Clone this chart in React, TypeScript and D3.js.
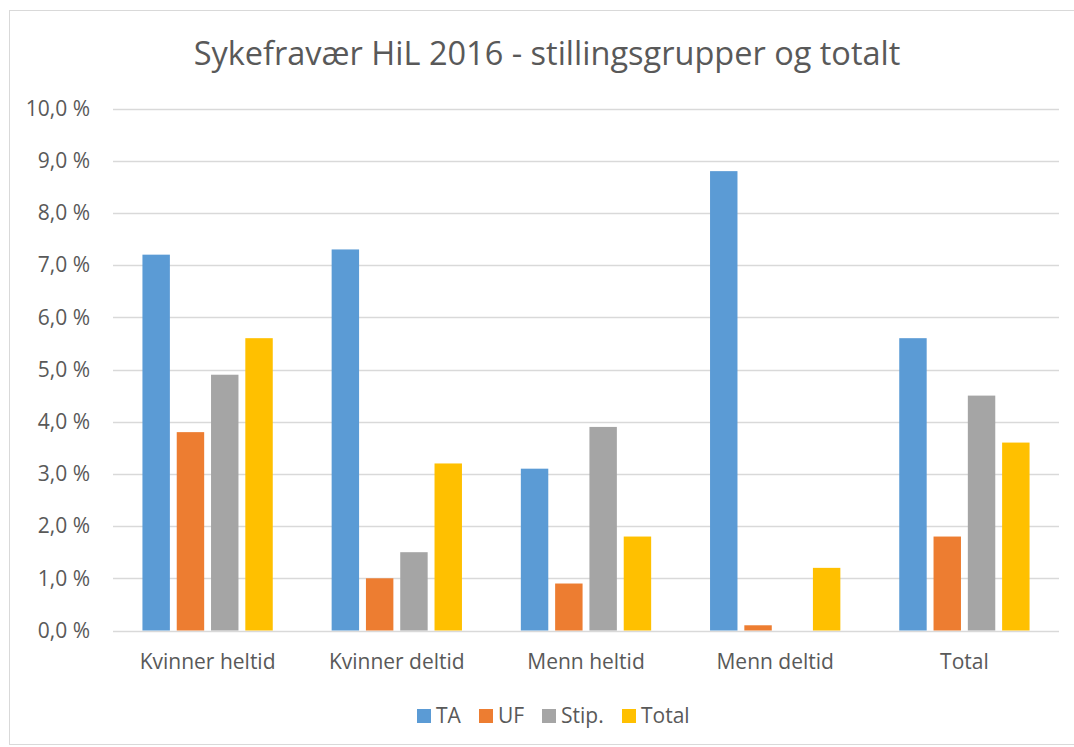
import React, { useEffect, useRef } from 'react'
import * as d3 from 'd3'

const categories = ['Kvinner heltid', 'Kvinner deltid', 'Menn heltid', 'Menn deltid', 'Total']
const seriesNames = ['TA', 'UF', 'Stip.', 'Total']
const taValues = [7.2, 7.3, 3.1, 8.8, 5.6]
const ufValues = [3.8, 1.0, 0.9, 0.1, 1.8]
const stipValues = [4.9, 1.5, 3.9, 0, 4.5]
const totalValues = [5.6, 3.2, 1.8, 1.2, 3.6]
const yTicks = [0, 1, 2, 3, 4, 5, 6, 7, 8, 9, 10]
const colors = ['#5B9BD5', '#ED7D31', '#A5A5A5', '#FFC000']

const title = 'Sykefravær HiL 2016 - stillingsgrupper og totalt'

export default function App() {
  const svgRef = useRef<SVGSVGElement>(null)
  const width = 1074
  const height = 747

  useEffect(() => {
    if (!svgRef.current) return
    const svg = d3.select(svgRef.current)
    svg.selectAll('*').remove()

    const font = "'Open Sans', sans-serif"
    const textColor = '#595959'
    const left = 113
    const right = 1059
    const top = 108.5
    const bottom = 630.5

    // chart border
    svg.append('rect')
      .attr('x', 9.5).attr('y', 10.5)
      .attr('width', width).attr('height', height - 13)
      .attr('fill', 'white')
      .attr('stroke', '#d9d9d9')

    svg.append('text')
      .attr('x', 547).attr('y', 65)
      .attr('text-anchor', 'middle')
      .attr('fill', textColor)
      .style('font-family', font)
      .style('font-size', '32.5px')
      .text(title)

    const y = d3.scaleLinear().domain([0, 10]).range([bottom, top])
    const x0 = d3.scaleBand<string>()
      .domain(categories)
      .range([left, right])
      .paddingInner(0.275)
      .paddingOuter(0.1375)
    const x1 = d3.scaleBand<string>()
      .domain(seriesNames)
      .range([0, x0.bandwidth()])
      .paddingInner(0.2)
      .paddingOuter(0.1)

    // gridlines
    svg.append('g')
      .selectAll('line')
      .data(yTicks)
      .enter()
      .append('line')
      .attr('x1', left).attr('x2', right)
      .attr('y1', d => Math.round(y(d)) + 0.5)
      .attr('y2', d => Math.round(y(d)) + 0.5)
      .attr('stroke', '#d9d9d9')
      .attr('stroke-width', 1.3)

    svg.append('g')
      .selectAll('text')
      .data(yTicks)
      .enter()
      .append('text')
      .attr('x', 90)
      .attr('y', d => y(d))
      .attr('dy', '0.35em')
      .attr('text-anchor', 'end')
      .attr('fill', textColor)
      .style('font-family', font)
      .style('font-size', '21px')
      .text(d => d3.format('.1f')(d).replace('.', ',') + ' %')

    const series = [taValues, ufValues, stipValues, totalValues]
    const rows = categories.map((c, i) => ({
      cat: c,
      vals: seriesNames.map((s, j) => ({ name: s, value: series[j][i], color: colors[j] }))
    }))

    const groups = svg.append('g')
      .selectAll('g')
      .data(rows)
      .enter()
      .append('g')
      .attr('transform', d => `translate(${x0(d.cat)},0)`)

    groups.selectAll('rect')
      .data(d => d.vals.filter(v => v.value > 0))
      .enter()
      .append('rect')
      .attr('x', d => x1(d.name)!)
      .attr('width', x1.bandwidth())
      .attr('y', d => y(d.value))
      .attr('height', d => y(0) - y(d.value))
      .attr('fill', d => d.color)

    // category labels
    svg.append('g')
      .selectAll('text')
      .data(categories)
      .enter()
      .append('text')
      .attr('x', d => x0(d)! + x0.bandwidth() / 2)
      .attr('y', 669)
      .attr('text-anchor', 'middle')
      .attr('fill', textColor)
      .style('font-family', font)
      .style('font-size', '21px')
      .text(d => d)

    // legend
    const legendX = [417, 479, 542, 622]
    const legend = svg.append('g')
    seriesNames.forEach((s, i) => {
      legend.append('rect')
        .attr('x', legendX[i]).attr('y', 709)
        .attr('width', 14).attr('height', 14)
        .attr('fill', colors[i])
      legend.append('text')
        .attr('x', legendX[i] + 19).attr('y', 716)
        .attr('dy', '0.35em')
        .attr('fill', textColor)
        .style('font-family', font)
        .style('font-size', '21px')
        .text(s)
    })
  }, [])

  return (
    <svg
      ref={svgRef}
      width={width}
      height={height}
      style={{ position: 'absolute', left: 0, top: 0 }}
    />
  )
}
